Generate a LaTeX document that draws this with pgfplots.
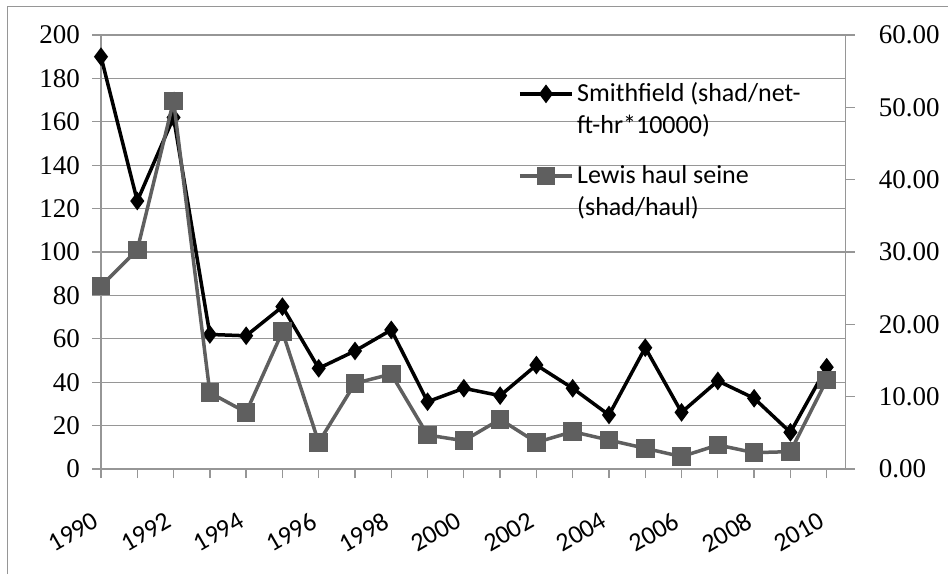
\documentclass[border=0pt]{standalone}
\usepackage{fontspec}
\setmainfont{Liberation Serif}
\newfontfamily\carlito{Carlito}
\usepackage{pgfplots}
\pgfplotsset{compat=1.18}
\definecolor{gridgray}{RGB}{150,150,150}
\definecolor{lewis}{RGB}{95,95,95}
\definecolor{framegray}{RGB}{150,150,150}
\begin{document}
\begin{tikzpicture}
\useasboundingbox (-101pt,-105pt) rectangle (847pt,469pt);
\draw[framegray, line width=1pt] (-93pt,-105pt) -- (-93pt,462pt) -- (847pt,462pt);
\pgfplotsset{
  common/.style={
    scale only axis, width=744.7pt, height=434pt,
    at={(0pt,0pt)}, anchor=south west,
    xmin=1990, xmax=2010.524,
    /pgf/number format/assume math mode=true,
    axis line style={gridgray, line width=1.3pt},
    major tick style={gridgray, line width=1.3pt},
    minor tick style={gridgray, line width=1.3pt},
    tick align=outside, major tick length=9pt, minor tick length=9pt,
  }
}
\begin{axis}[common,
  ymin=0, ymax=200,
  axis x line*=bottom, axis y line*=left,
  ytick={0,20,...,200},
  xtick={1990,1992,...,2010},
  minor xtick={1991,1993,...,2009},
  xticklabel={\pgfmathprintnumber[1000 sep={}]{\tick}},
  ymajorgrids, grid style={gridgray, line width=1.3pt},
  yticklabel style={font=\fontsize{27}{32}\selectfont, inner sep=0pt, xshift=-12pt},
  xticklabel style={font=\carlito\fontsize{26}{30}\selectfont, inner sep=0pt, xshift=-9pt, yshift=-33pt, rotate=30, anchor=north east},
  scaled y ticks=false,
]
\addplot[black, line width=3.5pt, mark=diamond*, mark size=6.5pt, mark options={solid}] coordinates {
(1990,190.0) (1991,123.5) (1992,162) (1993,62) (1994,61.4) (1995,74.8) (1996,46.4)
(1997,54.4) (1998,64.1) (1999,31.0) (2000,37.2) (2001,33.8) (2002,47.9) (2003,37.2)
(2004,24.9) (2005,55.9) (2006,26.1) (2007,40.6) (2008,32.6) (2009,16.9) (2010,46.9)
};
\end{axis}
\begin{axis}[common,
  ymin=0, ymax=60,
  axis x line=none, axis y line*=right,
  ytick={0,10,...,60},
  yticklabel style={font=\fontsize{27}{32}\selectfont, inner sep=0pt, xshift=24pt,
    /pgf/number format/.cd, fixed, fixed zerofill, precision=2},
  legend style={draw=none, fill=none, inner sep=0pt, at={(0.56,0.898)}, anchor=north west,
    font=\carlito\fontsize{26}{32}\selectfont, row sep=58pt,
    nodes={anchor=base west, inner xsep=3.5pt, inner ysep=0pt}},
  legend cell align=left,
  legend image code/.code={\draw[mark repeat=2,mark phase=2,#1] plot coordinates {(0pt,8pt) (26pt,8pt) (52pt,8pt)};},
]
\addlegendimage{black, line width=3.5pt, mark=diamond*, mark size=6.5pt, mark options={solid}}
\addlegendentry{\begin{tabular}[t]{@{}l@{}}Smithfield (shad/net-\\ft-hr*10000)\end{tabular}}
\addplot[lewis, line width=3.5pt, mark=square*, mark size=7.5pt, mark options={solid}] coordinates {
(1990,25.3) (1991,30.3) (1992,50.9) (1993,10.55) (1994,7.83) (1995,18.98) (1996,3.68)
(1997,11.84) (1998,13.13) (1999,4.70) (2000,3.91) (2001,6.87) (2002,3.68) (2003,5.16)
(2004,4.0) (2005,2.86) (2006,1.71) (2007,3.32) (2008,2.26) (2009,2.4) (2010,12.3)
};
\addlegendentry{\begin{tabular}[t]{@{}l@{}}Lewis haul seine\\(shad/haul)\end{tabular}}
\end{axis}
\end{tikzpicture}
\end{document}
